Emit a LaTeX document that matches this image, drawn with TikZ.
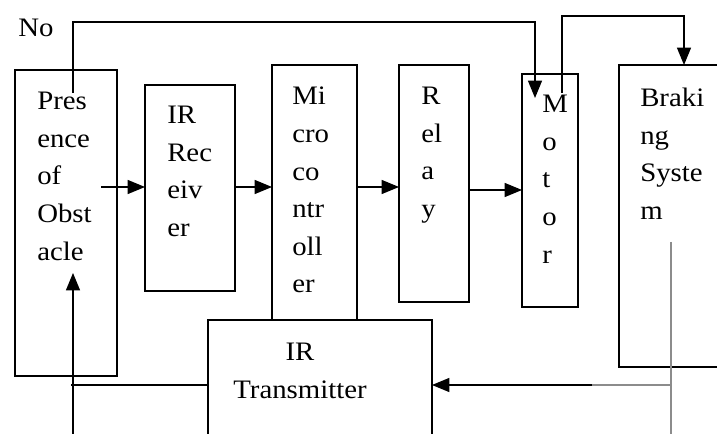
\documentclass[tikz,border=0pt]{standalone}
\usepackage{fontspec}
\setmainfont{Liberation Serif}[FakeStretch=1.08]
\usetikzlibrary{arrows.meta,calc}
\begin{document}
\begin{tikzpicture}[x=0.75pt,y=-0.75pt,
  box/.style={draw,line width=0.9pt,inner sep=0pt,outer sep=0pt,rectangle},
  txt/.style={anchor=north west,inner sep=0pt,align=left,font=\fontsize{20}{28.2}\selectfont},
  conn/.style={line width=0.9pt},
  arr/.style={line width=0.9pt,-{Triangle[length=13pt,width=10.5pt]}},
  grayline/.style={line width=0.9pt,draw=black!45}]
\useasboundingbox (0,0) rectangle (717,434);
\clip (0,0) rectangle (717,434);
% boxes
\node[box,minimum width=76.5pt,minimum height=229.5pt] (pres) at (66,223) {};
\node[box,minimum width=67.5pt,minimum height=154.5pt] (recv) at (190,188) {};
\node[box,minimum width=63.75pt,minimum height=191.25pt] (micro) at (314.5,192.5) {};
\node[box,minimum width=52.5pt,minimum height=177.75pt] (relay) at (434,183.5) {};
\node[box,minimum width=42pt,minimum height=174.75pt] (motor) at (550,190.5) {};
\node[box,minimum width=120.75pt,minimum height=226.5pt] (brake) at (699.5,216) {};
\node[box,fill=white,minimum width=168pt,minimum height=120pt] (trans) at (320,400) {};
% texts
\node[txt] (tpres) at (37,92) {Pres\\ence\\of\\Obst\\acle};
\node[txt] (trecv) at (167,106) {IR\\Rec\\eiv\\er};
\node[txt] (tmicro) at (292,87) {Mi\\cro\\co\\ntr\\oll\\er};
\node[txt] (trelay) at (421,87) {R\\el\\a\\y};
\node[txt] (tmotor) at (542,95) {M\\o\\t\\o\\r};
\node[txt] (tbrake) at (640,88) {Braki\\ng\\Syste\\m};
\node[txt,anchor=north,align=center] (ttrans) at (300,343) {IR\\Transmitter};
\node[anchor=base west,inner sep=0pt,font=\fontsize{20}{24}\selectfont] (no) at (18,37) {No};
% coordinates
\coordinate (pin) at (73,93);
\coordinate (ptop) at (73,22);
\coordinate (mtop) at (535,22);
\coordinate (mtip) at (535,98);
\coordinate (pout) at (101,187);
\coordinate (rout) at (469,190);
\coordinate (min) at (522,190);
\coordinate (mout) at (562,93);
\coordinate (mup) at (562,16);
\coordinate (bup) at (684,16);
\coordinate (bin) at (684,65);
\coordinate (g1) at (671,242);
\coordinate (g2) at (671,440);
\coordinate (gj) at (671,385);
\coordinate (gmid) at (592,385);
\coordinate (lend) at (71,385);
\coordinate (pbot) at (73,440);
\coordinate (ptip) at (73,273);
% connectors
\draw[arr] (pin) -- (ptop) -- (mtop) -- (mtip);
\draw[arr] (pout) -- (pout -| recv.west);
\draw[arr] (recv.east |- pout) -- (micro.west |- pout);
\draw[arr] (micro.east |- pout) -- (relay.west |- pout);
\draw[arr] (rout) -- (min);
\draw[arr] (mout) -- (mup) -- (bup) -- (bin);
\draw[grayline] (g1) -- (g2);
\draw[grayline] (gj) -- (gmid);
\draw[arr] (gmid) -- (gmid -| trans.east);
\draw[conn] (trans.west |- gj) -- (lend);
\draw[arr] (pbot) -- (ptip);
\end{tikzpicture}
\end{document}
